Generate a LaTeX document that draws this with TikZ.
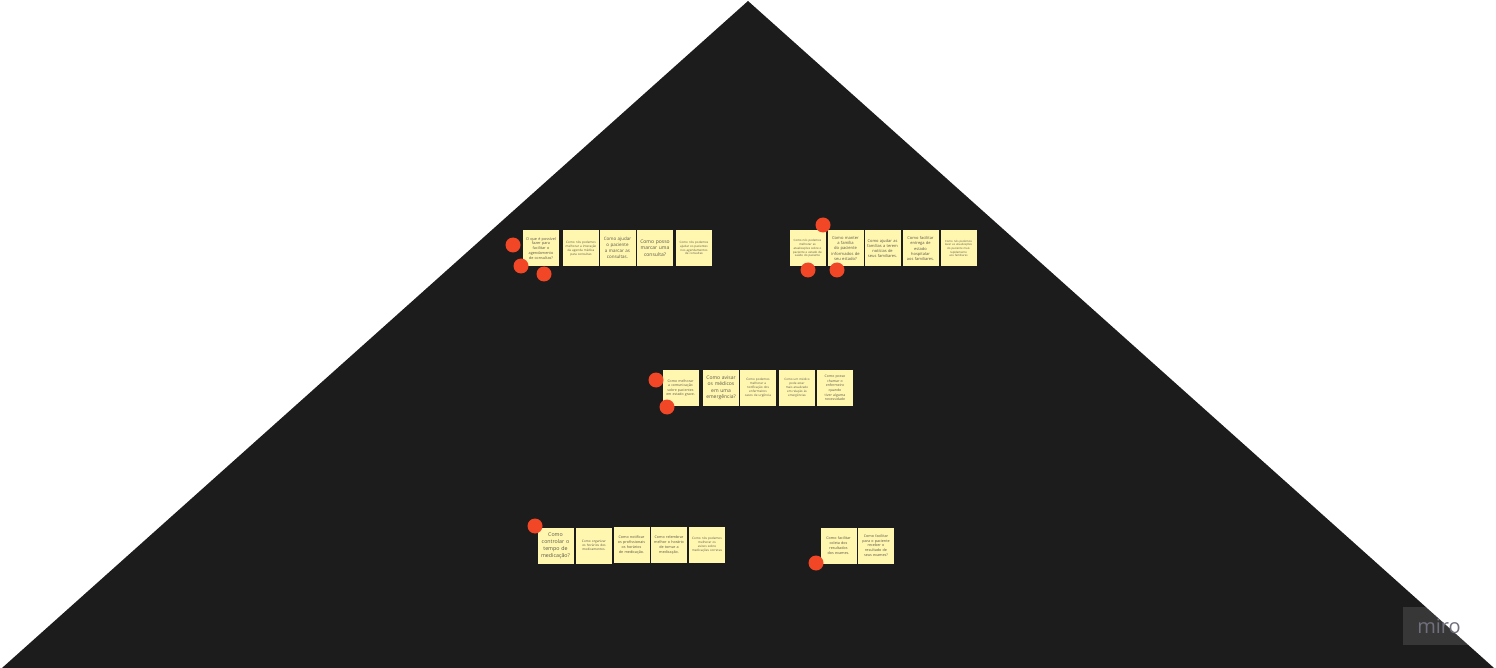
\documentclass[tikz,border=0pt]{standalone}
\usepackage{fontspec}
\setmainfont{Open Sans}
\hyphenpenalty=10000
\exhyphenpenalty=10000
\definecolor{board}{HTML}{1C1C1C}
\definecolor{stickyY}{HTML}{FFF6B0}
\definecolor{stickyT}{HTML}{5A5848}
\definecolor{dotred}{HTML}{F24726}
\definecolor{miroT}{HTML}{70707E}
\tikzset{
  sticky/.style={fill=stickyY, draw=none, minimum width=36pt, minimum height=36pt,
    inner sep=0pt, text width=31pt, align=center, text=stickyT},
  fs/.style={font=\fontsize{#1}{#1}\selectfont\setlength{\baselineskip}{1.3\baselineskip}},
  vote/.style={circle, fill=dotred, draw=none, minimum size=15pt, inner sep=0pt},
}
\begin{document}
\begin{tikzpicture}[x=1pt,y=-1pt]
\useasboundingbox (0,0) rectangle (1496,668);
\fill[white] (0,0) rectangle (1496,668);
\path[fill=board] (748,1) coordinate (apex) -- (2,668) coordinate (bl) -- (1494,668) coordinate (br) -- cycle;

% Group 1
\node[sticky, fs=3.8] (g1a) at (541,248.5) {O que é possível fazer para facilitar o agendamento de consultas?};
\node[sticky, fs=3.1] (g1b) at (581,248.5) {Como nós podemos melhorar a interação da agenda médica para consultas};
\node[sticky, fs=4.5] (g1c) at (617.5,248) {Como ajudar o paciente a marcar as consultas.};
\node[sticky, fs=5.0] (g1d) at (655,248) {Como posso marcar uma consulta?};
\node[sticky, fs=3.0] (g1e) at (694,248) {Como nós podemos ajudar os pacientes nos agendamentos de consultas};
\node[vote] (d1) at (513,245) {};
\node[vote] (d2) at (521,266) {};
\node[vote] (d3) at (544,274) {};

% Group 2
\node[sticky, fs=2.9] (g2a) at (807.5,248.5) {Como nós podemos melhorar as atualizações sobre o paciente e estado de saúde do paciente};
\node[sticky, fs=4.1] (g2b) at (845.5,248.5) {Como manter a família do paciente informados de seu estado?};
\node[sticky, fs=4.0] (g2c) at (882.5,248.5) {Como ajudar as famílias a terem notícias de seus familiares.};
\node[sticky, fs=4.0] (g2d) at (920.5,248.5) {Como facilitar entrega de estado hospitalar aos familiares.};
\node[sticky, fs=2.8] (g2e) at (958.5,248.5) {Como nós podemos levar as atualizações do paciente mais rapidamente aos familiares};
\node[vote] (d4) at (823,225) {};
\node[vote] (d5) at (808,270) {};
\node[vote] (d6) at (837,270) {};

% Group 3
\node[sticky, fs=3.5] (g3a) at (680.5,388) {Como melhorar a comunicação sobre pacientes em estado grave.};
\node[sticky, fs=5.0] (g3b) at (721,388) {Como avisar os médicos em uma emergência?};
\node[sticky, fs=3.1] (g3c) at (758,388) {Como podemos melhorar a notificação dos enfermeiros casos de urgência};
\node[sticky, fs=3.0] (g3d) at (797,388) {Como um médico pode estar mais atualizado em relação às emergências};
\node[sticky, fs=3.5] (g3e) at (835,388) {Como posso chamar o enfermeiro quando tiver alguma necessidade};
\node[vote] (d7) at (656,380) {};
\node[vote] (d8) at (667,407) {};

% Group 4
\node[sticky, fs=5.3] (g4a) at (555.5,545.5) {Como controlar o tempo de medicação?};
\node[sticky, fs=3.2] (g4b) at (594,545.5) {Como organizar os horários dos medicamentos.};
\node[sticky, fs=3.7] (g4c) at (631.5,545) {Como notificar os profissionais os horários de medicação.};
\node[sticky, fs=3.7] (g4d) at (669,545) {Como relembrar melhor o horário de tomar a medicação.};
\node[sticky, fs=3.1] (g4e) at (707,545) {Como nós podemos melhorar os avisos sobre medicações corretas};
\node[vote] (d9) at (535,526) {};

% Group 5
\node[sticky, fs=3.7] (g5a) at (838.5,545.5) {Como facilitar coleta dos resultados dos exames.};
\node[sticky, fs=3.7] (g5b) at (876,545.5) {Como facilitar para o paciente receber o resultado de seus exames?};
\node[vote] (d10) at (816,563) {};

% miro badge
\node[fill=white, fill opacity=0.12, text opacity=1, text=miroT, minimum width=72pt,
  minimum height=38pt, inner sep=0pt, font=\fontsize{20}{20}\selectfont] (miro) at (1439,626) {miro};
\end{tikzpicture}
\end{document}
